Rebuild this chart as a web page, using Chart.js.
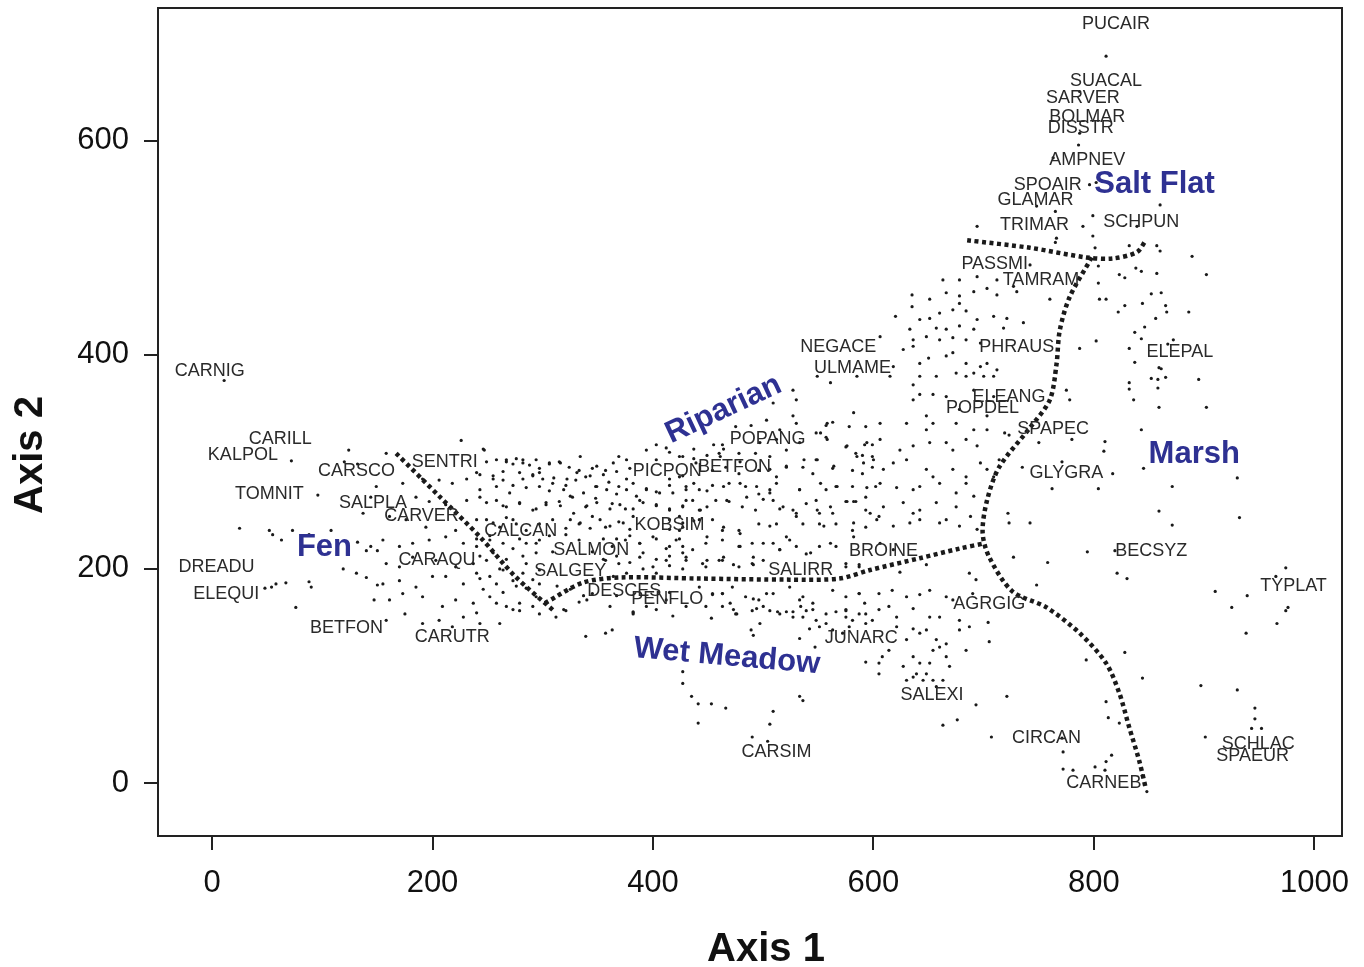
<!DOCTYPE html>
<html>
<head>
<meta charset="utf-8">
<script src="https://cdn.jsdelivr.net/npm/chart.js@4.4.1/dist/chart.umd.min.js"></script>
<style>
  html, body { margin: 0; padding: 0; background: #fff; }
  #wrap { width: 1364px; height: 967px; }
</style>
</head>
<body>
<div id="wrap"><canvas id="chart" width="1364" height="967"></canvas></div>
<script>
// ordination scores of sites (Axis 1, Axis 2)
const westSites = [
  [11,376],[72,301],[124,311],[120,300],[132,298],[96,269],[149,277],[144,267],[137,252],[25,238],
  [52,236],[55,232],[63,227],[73,236],[88,232],[108,236],[132,225],[140,217],[150,217],[144,221],
  [119,200],[131,196],[140,192],[88,188],[90,183],[150,185],[76,164],[48,182],[54,183],[58,186],
  [67,187],[147,171]
];
const coreSites = [
  [226,320],[247,311],[158,308],
  [249,300],[258,302],[267,300],[276,303],[282,302],[288,297],[297,294],[306,299],[315,300],[324,295],
  [333,292],[345,294],[357,292],[369,305],[379,294],[394,311],[403,316],[412,313],
  [173,280],[191,284],[206,283],[218,280],[231,284],[243,288],[255,284],[264,283],[273,278],[282,284],
  [291,288],[300,284],[309,280],[321,278],[330,283],[339,286],[348,277],[360,281],[369,277],[382,280],
  [394,275],[403,272],[415,278],
  [185,267],[197,263],[212,260],[231,264],[243,267],[258,264],[267,258],[279,261],[291,255],[303,260],
  [315,263],[327,267],[339,258],[348,266],[363,261],[375,256],[388,264],[403,260],[415,255],
  [161,249],[176,246],[194,239],[221,236],[249,246],[261,239],[273,246],[285,236],[297,242],[309,246],
  [321,238],[333,242],[345,249],[357,239],[369,244],[382,249],[415,246],
  [155,227],[170,221],[182,224],[197,227],[212,230],[228,224],[240,221],[252,227],[273,219],[285,224],
  [297,227],[309,216],[321,232],[333,227],[345,216],[363,221],[375,227],[388,224],[400,230],[412,219],
  [421,227],
  [158,205],[170,202],[182,211],[203,208],[221,202],[237,205],[249,208],[264,199],[285,205],[297,199],
  [357,208],[369,205],[388,211],[400,202],[412,208],
  [155,186],[170,189],[185,183],[200,193],[212,193],[228,186],[243,191],[258,186],[273,189],[285,182],
  [297,186],
  [161,171],[173,177],[191,174],[209,165],[221,171],[237,168],[252,174],[267,165],[279,168],[294,174],
  [321,161],[333,169],[345,177],[382,160],[394,165],[412,171],
  [158,152],[175,158],[191,149],[206,152],[218,146],[228,155],[243,149],[261,149],[279,161],[297,158],
  [312,155],[339,137],[357,140],[363,143],[382,158]
];
const coreDenseSites = [
  [246,312],[267,302],[273,298],[282,299],[294,302],[306,298],[316,299],[334,305],[349,296],[364,299],
  [376,302],[403,302],[415,309],[427,305],
  [240,290],[255,287],[264,291],[279,290],[291,287],[297,290],[310,285],[322,284],[331,290],[343,287],
  [355,288],[367,291],[376,284],[415,284],[427,287],
  [243,274],[258,277],[270,271],[285,276],[297,277],[306,273],[319,274],[325,268],[337,271],[349,277],
  [358,274],[367,270],[376,274],[385,268],[394,274],[406,271],[418,271],[430,274],
  [249,262],[264,259],[279,262],[294,256],[303,262],[316,259],[328,252],[340,259],[349,262],[361,256],
  [370,260],[382,256],[391,262],[403,259],[415,256],[427,259],
  [240,246],[255,243],[267,248],[276,242],[325,246],[334,243],[343,238],[352,246],[361,240],[373,243],
  [379,237],[415,237],[427,243],
  [240,228],[252,231],[264,224],[279,228],[294,224],[306,231],[355,228],[367,228],[379,231],[388,224],
  [403,228],[415,221],[424,228],
  [243,212],[255,215],[267,209],[282,212],[294,215],[355,209],[367,212],[379,206],[391,215],[403,209],
  [415,212],[427,215],
  [240,196],[252,193],[261,200],[282,196],[291,190],[364,193],[376,196],[391,200],[403,196],[415,203],
  [427,200],
  [246,181],[264,178],[276,184],[313,184],[325,181],[337,175],[367,175],[415,178],
  [240,159],[258,168],[273,162],[291,165],[319,162],[340,171],[361,165],[382,159],[403,162],[418,156]
];
const riparianWestSites = [
  [437,312],[455,316],[464,312],[424,305],[437,303],[449,306],[461,305],[479,300],[424,286],[437,280],
  [449,273],[464,277],[479,280],[494,277],[430,264],[449,258],[467,264],[485,267],[424,249],[443,255],
  [437,245],[449,230],[464,239],[479,233],[424,236],[430,211],[449,208],[464,211],[479,221],[491,211],
  [530,358]
];
const riparianDenseSites = [
  [475,333],[489,334],[515,330],[530,336],[548,327],[557,334],[557,323],[563,337],[578,333],[593,333],
  [463,316],[460,308],[478,308],[493,308],[506,305],[521,311],[548,302],[575,314],[584,308],[592,316],
  [599,316],[590,306],[599,305],
  [439,299],[454,292],[466,295],[478,289],[496,292],[512,286],[521,295],[536,295],[545,289],[563,294],
  [581,292],[590,289],[599,295],
  [430,277],[442,274],[454,278],[469,280],[484,277],[496,270],[506,274],[512,280],[533,274],[548,264],
  [557,274],[566,277],[581,277],[593,267],[602,277],
  [427,258],[436,264],[442,255],[457,264],[469,263],[481,258],[493,255],[509,264],[515,256],[527,255],
  [539,261],[551,252],[563,252],[575,263],[584,263],[593,255],[605,249],
  [427,239],[442,246],[454,246],[463,236],[478,236],[496,242],[512,242],[521,230],[536,242],[551,242],
  [566,242],[581,236],[593,239],
  [427,221],[436,218],[448,224],[463,227],[478,221],[490,224],[509,224],[515,218],[524,227],[539,214],
  [551,221],[566,221],
  [430,208],[445,205],[463,208],[478,202],[490,205],[500,208],[575,205],[587,202],
  [442,183],[454,177],[463,177],[472,183],[484,174],[496,171],[509,177],[524,183],[536,174],[545,168],
  [563,180],[575,174],[587,177],[430,165],[448,165],[463,165],[475,158],[490,161],[506,161],[515,158],
  [527,155],[539,161],[557,158],[575,161],[593,158]
];
const riparianSites = [
  [765,505],[766,509],[799,511],[801,500],[804,483],[742,484],[663,470],[678,470],[694,473],[712,470],
  [730,459],[727,464],[804,467],[805,452],[811,452],
  [635,456],[651,452],[666,458],[678,455],[691,459],[703,462],[712,456],[760,452],
  [620,436],[635,445],[642,433],[651,434],[660,439],[672,442],[678,448],[684,441],[694,433],[709,436],
  [721,434],[736,430],
  [633,424],[657,425],[666,424],[678,427],[691,424],[718,425],
  [606,417],[636,414],[648,417],[660,414],[672,416],[684,414],[697,411],
  [627,405],[636,408],[642,392],[650,397],[666,399],[672,402],[684,392],[697,389],[703,392],[712,386],
  [787,406],[802,413],
  [618,389],[615,380],[549,380],[561,374],[585,380],[642,380],[657,380],[675,383],[684,380],[691,383],
  [700,380],[709,380],
  [527,367],[636,372],[654,363],[666,361],[691,367],[709,361],[775,367],[778,358],
  [509,355],[636,358],[642,363],[678,349],[703,343],
  [503,339],[527,343],[558,336],[582,346],[606,336],[630,336],[648,343],[654,336],[675,336],[691,330],
  [703,330],
  [497,318],[512,321],[533,318],[552,327],[558,321],[576,315],[585,305],[594,318],[606,321],[624,311],
  [636,315],[648,330],[651,318],[666,318],[672,311],[684,321],[694,315],
  [506,293],[521,296],[537,302],[549,302],[564,296],[591,299],[600,302],[609,293],[618,299],[630,302],
  [648,293],[654,286],[672,293],[684,286],[697,299],[703,293],[709,286],
  [506,271],[533,274],[552,280],[567,277],[594,276],[606,280],[621,276],[636,274],[642,277],[660,280],
  [675,271],[684,280],[691,268],
  [500,265],[518,258],[530,252],[549,255],[561,258],[576,263],[582,263],[597,252],[609,258],[627,262],
  [636,252],[642,255],[657,262],[675,258],[688,249],
  [506,240],[530,249],[555,240],[582,243],[603,246],[618,240],[633,243],[642,246],[660,243],[666,246],
  [678,240],[694,237],
  [500,224],[515,218],[530,221],[543,215],[561,224],[582,230],[606,224],[618,218]
];
const saltFlatSites = [
  [811,679],[787,646],[787,607],[786,596],[763,584],[796,559],[802,561],[694,520],[748,539],[765,534],
  [790,520],[799,530],[860,540],[839,520]
];
const marshNorthSites = [
  [857,502],[860,497],[889,492],[902,475],[832,502],[838,481],[843,478],[857,476],[823,475],[828,472],
  [852,457],[861,458],[828,446],[844,448],[865,446],[866,440],[822,440],[886,440],[856,434],[846,426],
  [837,421],[843,415],[832,406],[837,393],[859,388],[861,387],[852,378],[858,377],[865,379],[895,377],
  [832,374],[832,368],[858,369],[836,358],[872,414],[867,410]
];
const marshSites = [
  [719,327],[723,325],[750,318],[780,321],[810,319],[809,310],[843,330],[859,351],[902,351],[771,300],
  [735,295],[714,302],[817,289],[845,294],[762,275],[804,275],[871,277],[930,285],[722,252],[723,243],
  [742,243],[859,254],[871,241],[932,248],[727,211],[758,206],[794,216],[819,217],[821,196],[830,191],
  [748,185],[910,179],[939,175],[925,164],[974,201],[965,193],[974,161],[976,164],[966,149],[938,140],
  [828,122],[793,115],[844,98],[897,91],[930,87],[721,81],[811,76],[946,70],[946,60],[813,61],
  [823,56],[901,43],[943,51],[952,51],[771,42],[772,29],[816,26],[811,20],[801,15],[810,12],
  [772,13],[781,12],[844,7],[848,-8],[704,150]
];
const meadowSites = [
  [448,202],[460,208],[473,204],[491,204],[575,202],[587,204],[624,197],[648,204],[687,196],[693,190],
  [454,176],[463,177],[470,168],[473,162],[491,172],[494,163],[500,165],[503,177],[533,171],[534,165],
  [587,177],[592,168],[605,177],[617,180],[630,174],[642,176],[651,180],[666,174],[672,171],[690,177],
  [453,154],[476,158],[497,149],[513,160],[521,160],[527,160],[536,155],[545,162],[548,152],[566,160],
  [575,162],[575,155],[581,152],[587,158],[599,152],[605,162],[614,165],[621,155],[636,163],[651,155],
  [660,155],[678,152],[687,146],
  [489,143],[491,138],[533,135],[542,144],[547,127],[551,146],[557,149],[563,143],[572,140],[578,146],
  [593,149],[621,146],[630,134],[636,144],[642,140],[648,143],[657,134],[666,130],[678,143],[705,132],
  [684,124],
  [427,104],[593,113],[605,112],[608,118],[614,124],[627,109],[636,118],[642,112],[651,112],[654,124],
  [660,127],[669,109],[666,118],[605,102],[639,102],[648,102],
  [427,93],[435,81],[533,81],[536,77],[630,96],[636,99],[645,96],[654,96],[663,96],[657,90],[693,73],
  [441,74],[453,74],[466,70],[509,67],[441,56],[506,55],[663,54],[676,59],
  [490,43],[504,39],[707,43]
];

// species scores (label, Axis 1, Axis 2)
const species = [
  ["PUCAIR",820,709],["SUACAL",811,656],["SARVER",790,640],["BOLMAR",794,622],["DISSTR",788,612],
  ["AMPNEV",794,582],["SPOAIR",758,559],["GLAMAR",747,545],["TRIMAR",746,521],["SCHPUN",843,524],
  ["PASSMI",710,485],["TAMRAM",752,470],["NEGACE",568,407],["ULMAME",581,388],["PHRAUS",730,407],
  ["ELEPAL",878,403],["ELEANG",723,361],["POPDEL",699,350],["SPAPEC",763,331],["POPANG",504,321],
  ["PICPON",413,291],["BETFON",474,295],["GLYGRA",775,290],["SENTRI",211,300],["CARILL",62,321],
  ["KALPOL",28,306],["CARSCO",131,291],["TOMNIT",52,270],["SALPLA",146,262],["CARVER",190,249],
  ["CALCAN",280,235],["KOBSIM",415,241],["CARAQU",204,208],["SALMON",344,218],["BROINE",609,217],
  ["BECSYZ",852,217],["DREADU",4,202],["SALGEY",325,198],["SALIRR",534,199],["TYPLAT",981,184],
  ["ELEQUI",13,177],["DESCES",374,179],["PENFLO",413,172],["AGRGIG",705,167],["BETFON",122,145],
  ["CARUTR",218,136],["JUNARC",589,135],["SALEXI",653,82],["CARSIM",512,29],["CIRCAN",757,42],
  ["SCHLAC",949,36],["SPAEUR",944,25],["CARNEB",809,0],["CARNIG",-2,385]
];

// vegetation type boundaries (dotted)
const fenBoundary = [[167,308],[207,267],[243,230],[275,193],[311,160]];
const meadowBoundary = [[302,168],[336,187],[370,192],[442,191],[524,190],[569,191],[597,199],[642,210],[678,219],[701,224]];
const marshBoundary = [[798,491],[778,454],[769,423],[766,391],[760,358],[742,332],[714,295],[703,264],[699,234],[705,211],[726,179],[757,164],[787,140],[811,112],[823,84],[832,52],[841,21],[847,-5]];
const saltBoundary = [[685,507],[742,500],[793,491],[817,490],[839,496],[847,507]];

// community names
const regions = [
  ["Salt Flat",855,559],["Marsh",891,307],["Riparian",464,349],["Fen",102,220],["Wet Meadow",467,118]
];

const xTicks = [0,200,400,600,800,1000];
const yTicks = [0,200,400,600];

const allSites = [].concat(westSites, coreSites, coreDenseSites, riparianWestSites,
  riparianDenseSites, riparianSites, saltFlatSites, marshNorthSites, marshSites, meadowSites);

const toXY = arr => arr.map(([x, y]) => ({ x, y }));
const INK = "#1a1a1a";
const FONT = '"Liberation Sans", Arial, sans-serif';

const boundaryDataset = pts => ({
  data: toXY(pts),
  showLine: true,
  borderColor: INK,
  borderWidth: 4.5,
  borderDash: [4, 3.5],
  borderCapStyle: "butt",
  tension: 0.3,
  pointRadius: 0,
  fill: false,
});

const overlay = {
  id: "overlay",
  afterDatasetsDraw(chart) {
    const { ctx, chartArea: a, scales: { x, y } } = chart;
    ctx.save();
    ctx.strokeStyle = "#222";
    ctx.lineWidth = 2;
    ctx.strokeRect(a.left, a.top, a.right - a.left, a.bottom - a.top);

    ctx.fillStyle = "#2a2a2a";
    ctx.font = "18px " + FONT;
    ctx.textAlign = "center";
    ctx.textBaseline = "middle";
    species.forEach(([name, sx, sy]) => {
      ctx.fillText(name, x.getPixelForValue(sx), y.getPixelForValue(sy));
    });

    const tilt = { "Riparian": -25, "Wet Meadow": 5 };
    ctx.fillStyle = "#2e3192";
    ctx.font = "bold 31px " + FONT;
    regions.forEach(([name, rx, ry]) => {
      ctx.save();
      ctx.translate(x.getPixelForValue(rx), y.getPixelForValue(ry));
      ctx.rotate(((tilt[name] || 0) * Math.PI) / 180);
      ctx.fillText(name, 0, 0);
      ctx.restore();
    });

    ctx.fillStyle = "#111";
    ctx.font = "bold 40px " + FONT;
    ctx.textBaseline = "alphabetic";
    ctx.fillText("Axis 1", 766, 961);
    ctx.save();
    ctx.translate(42, 455);
    ctx.rotate(-Math.PI / 2);
    ctx.fillText("Axis 2", 0, 0);
    ctx.restore();
    ctx.restore();
  },
};

const axisCommon = {
  type: "linear",
  border: { display: false },
  grid: { drawOnChartArea: false, drawTicks: true, tickLength: 14, color: "#222", lineWidth: 2 },
  ticks: { color: "#111", font: { family: FONT, size: 31 }, padding: 15, callback: v => String(v) },
};

new Chart(document.getElementById("chart"), {
  type: "scatter",
  data: {
    datasets: [
      {
        data: toXY(allSites),
        pointRadius: 1.6,
        pointBackgroundColor: INK,
        pointBorderWidth: 0,
        showLine: false,
      },
      boundaryDataset(fenBoundary),
      boundaryDataset(meadowBoundary),
      boundaryDataset(marshBoundary),
      boundaryDataset(saltBoundary),
    ],
  },
  options: {
    responsive: false,
    animation: false,
    devicePixelRatio: 1,
    layout: { padding: { left: 0, top: 8, right: 22, bottom: 0 } },
    plugins: { legend: { display: false }, tooltip: { enabled: false } },
    scales: {
      x: {
        ...axisCommon,
        min: -49,
        max: 1025,
        afterBuildTicks: s => { s.ticks = xTicks.map(v => ({ value: v })); },
        afterFit: s => { s.height = 131; s.paddingLeft = 0; s.paddingRight = 0; },
      },
      y: {
        ...axisCommon,
        min: -49.5,
        max: 724,
        afterBuildTicks: s => { s.ticks = yTicks.map(v => ({ value: v })); },
        afterFit: s => { s.width = 158; s.paddingTop = 0; s.paddingBottom = 0; },
      },
    },
  },
  plugins: [overlay],
});
</script>
</body>
</html>
